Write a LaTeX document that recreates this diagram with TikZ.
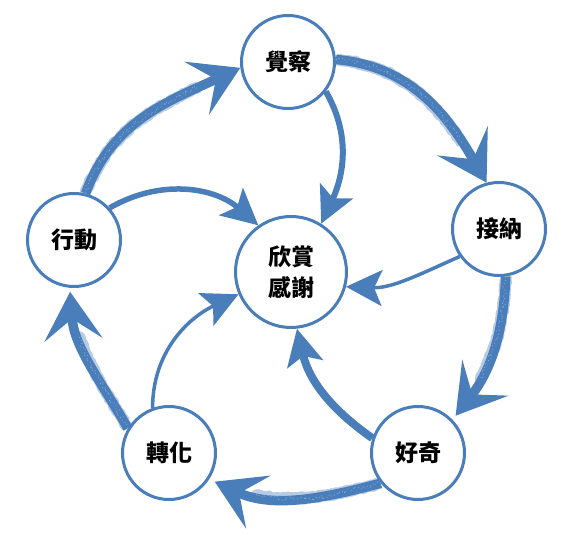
\documentclass[tikz,border=0pt]{standalone}
\usepackage{fontspec}
\newfontfamily\cjk{Noto Sans CJK TC}
\usetikzlibrary{arrows.meta,decorations.pathmorphing}
\definecolor{chalk}{RGB}{74,126,187}
\begin{document}
\begin{tikzpicture}[x=1pt,y=1pt,
  stage/.style={circle, draw=chalk, line width=3pt, fill=white, minimum size=93pt,
    inner sep=0pt, font=\cjk\bfseries\fontsize{23}{31}\selectfont, align=center},
  core/.style={stage, minimum size=111pt},
  outerarrow/.style={draw=chalk, line width=9.5pt,
    -{Stealth[length=48pt, width=58pt, inset=21pt]}},
  roughedge/.style={draw=chalk, line width=11.5pt, opacity=.4, shorten >=46pt,
    line join=round,
    decorate, decoration={random steps, segment length=1.8pt, amplitude=1pt,
      post length=50pt}},
  speckle/.style={draw=white, line width=.7pt, opacity=.35, shorten >=46pt,
    line join=round, dash pattern=on 1pt off 2.6pt,
    decorate, decoration={random steps, segment length=2pt, amplitude=2.6pt,
      post length=50pt}},
  innerarrow/.style={draw=chalk, -{Stealth[length=36pt, width=36pt, inset=8pt]}},
]
\useasboundingbox (0,0) rectangle (570,544);

\node[stage] (A) at (288,482) {覺察};
\node[stage] (B) at (499,315) {接納};
\node[stage] (C) at (418,91) {好奇};
\node[stage] (D) at (169,91) {轉化};
\node[stage] (E) at (74,304) {行動};
\node[core] (M) at (291,272) {欣賞\\感謝};

% outer cycle (chalk arrows)
\draw[outerarrow] (E.76) to[out=70,in=205] (A.187);
\draw[roughedge] (E.76) to[out=70,in=205] (A.187);
\draw[speckle] (E.76) to[out=70,in=205] (A.187);

\draw[outerarrow] (A.3) to[out=-5,in=120] (B.105);
\draw[roughedge] (A.3) to[out=-5,in=120] (B.105);
\draw[speckle] (A.3) to[out=-5,in=120] (B.105);

\draw[outerarrow, shorten >=5pt] (B.-82) to[out=-92,in=52] (C.44);
\draw[roughedge, shorten >=51pt] (B.-82) to[out=-92,in=52] (C.44);
\draw[speckle, shorten >=51pt] (B.-82) to[out=-92,in=52] (C.44);

\draw[outerarrow, shorten >=6pt] (C.-141) to[out=-165,in=-25] (D.-33);
\draw[roughedge, shorten >=52pt] (C.-141) to[out=-165,in=-25] (D.-33);
\draw[speckle, shorten >=52pt] (C.-141) to[out=-165,in=-25] (D.-33);

\draw[outerarrow, shorten >=4pt] (D.149) to[out=120,in=-86] (E.-95);
\draw[roughedge, shorten >=50pt] (D.149) to[out=120,in=-86] (E.-95);
\draw[speckle, shorten >=50pt] (D.149) to[out=120,in=-86] (E.-95);

% inner arrows to the centre
\draw[innerarrow, line width=6pt] (A.-38) to[out=-60,in=65] (M.58);
\draw[innerarrow, line width=3.5pt] (B.-145) to[out=-156,in=-2] (M.-15);
\draw[innerarrow, line width=8pt] (C.162) to[out=145,in=-77] (M.-84);
\draw[innerarrow, line width=3.5pt] (D.110) to[out=90,in=205] (M.-157);
\draw[innerarrow, line width=5.5pt] (E.42) to[out=30,in=139] (M.125);
\end{tikzpicture}
\end{document}
